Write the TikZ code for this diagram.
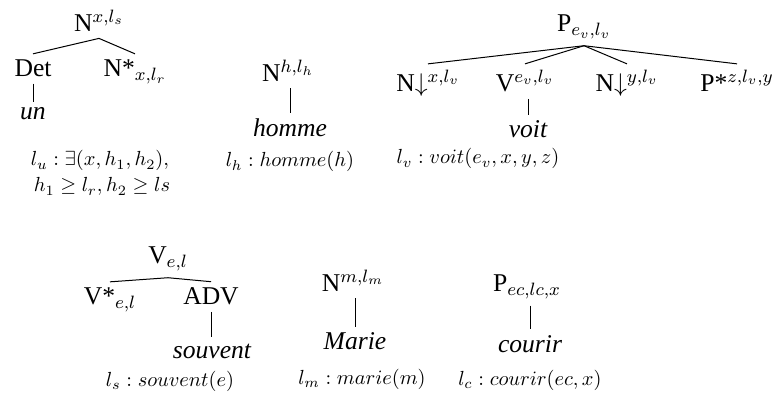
\documentclass[tikz,border=0pt]{standalone}
\usepackage{fix-cm}
\usepackage[no-math]{fontspec}
\setmainfont{Liberation Serif}
\tikzset{
  lab/.style={inner xsep=1pt, inner ysep=3pt, anchor=base, font=\fontsize{12.8}{15}\selectfont},
  word/.style={lab, font=\fontsize{12.8}{15}\selectfont\itshape},
  sem/.style={inner sep=1pt, anchor=base, font=\fontsize{10.2}{12}\selectfont},
  branch/.style={line width=0.5pt}
}
\begin{document}
\begin{tikzpicture}[x=0.5pt, y=-0.5pt]
	\useasboundingbox (0,0) rectangle (774,394);

	% 1. TREE FOR "un"
	\node[lab] (nx) at (99,32) {N$^{x,l_s}$};
	\node[lab] (det) at (33,77) {Det};
	\node[lab] (nstar) at (135,77) {N*$_{x,l_r}$};
	\node[word] (un) at (33,120) {un};
	\draw[branch] (nx.south) -- (det.north);
	\draw[branch] (nx.south) -- (nstar.north);
	\draw[branch] (un.north |- det.south) -- (un.north);
	\node[sem] (semu) at (100,166) {$l_u : \exists(x,h_1,h_2),$};
	\node[sem] (semuu) at (102,192) {$h_1 \geq l_r, h_2 \geq ls$};

	% 2. TREE FOR "homme"
	\node[lab] (nh) at (288,82) {N$^{h,l_h}$};
	\node[word] (homme) at (290,137) {homme};
	\draw[branch] (homme.north |- nh.south) -- (homme.north);
	\node[sem] (semh) at (290,167) {$l_h : homme(h)$};

	% 3. TREE FOR "voit"
	\node[lab] (pv) at (584,32) {P$_{e_v,l_v}$};
	\node[lab] (nxv) at (428,92) {N$\downarrow^{x,l_v}$};
	\node[lab] (vv) at (525,92) {V$^{e_v,l_v}$};
	\node[lab] (nyv) at (627,92) {N$\downarrow^{y,l_v}$};
	\node[lab] (pstar) at (737,92) {P*$^{z,l_v,y}$};
	\node[word] (voit) at (528,138) {voit};
	\foreach \kid in {nxv,vv,nyv,pstar}
		\draw[branch] (pv.south) -- (\kid.north);
	\draw[branch] (voit.north |- vv.south) -- (voit.north);
	\node[sem] (semv) at (478,164) {$l_v : voit(e_v,x,y,z)$};

	% 4. TREE FOR "souvent"
	\node[lab] (vel) at (168,264) {V$_{e,l}$};
	\node[lab] (vstar) at (110,305) {V*$_{e,l}$};
	\node[lab] (adv) at (211,305) {ADV};
	\node[word] (souvent) at (212,358) {souvent};
	\draw[branch] (vel.south) -- (vstar.north);
	\draw[branch] (vel.south) -- (adv.north);
	\draw[branch] (adv.south) -- (adv.south |- souvent.north);
	\node[sem] (sems) at (170,386) {$l_s : souvent(e)$};

	% 5. TREE FOR "Marie"
	\node[lab] (nm) at (353,292) {N$^{m,l_m}$};
	\node[word] (marie) at (355,350) {Marie};
	\draw[branch] (marie.north |- nm.south) -- (marie.north);
	\node[sem] (semm) at (362,384) {$l_m : marie(m)$};

	% 6. TREE FOR "courir"
	\node[lab] (pc) at (527,292) {P$_{ec,lc,x}$};
	\node[word] (courir) at (530,352) {courir};
	\draw[branch] (courir.north |- pc.south) -- (courir.north);
	\node[sem] (semc) at (530,385) {$l_c : courir(ec,x)$};

\end{tikzpicture}
\end{document}
